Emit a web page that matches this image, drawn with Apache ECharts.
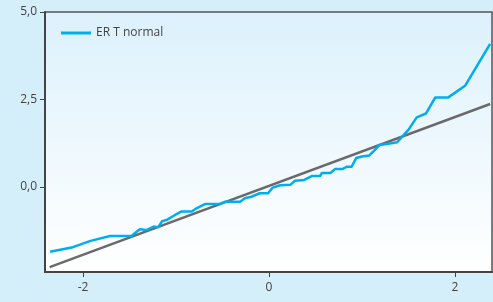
<!DOCTYPE html>
<html><head><meta charset="utf-8">
<script src="https://cdn.jsdelivr.net/npm/echarts@6/dist/echarts.min.js"></script>
<style>html,body{margin:0;padding:0;background:#d4eefa;}#c{width:493px;height:302px;}</style>
</head><body><div id="c"></div>
<script>
const seriesName = 'ER T normal';
const xTicks = [-2, 0, 2];
const yTicks = [0, 2.5, 5];
const empirical = [[-2.355,-1.85],[-2.11,-1.72],[-1.92,-1.54],[-1.71,-1.40],[-1.48,-1.40],[-1.39,-1.21],[-1.32,-1.23],[-1.24,-1.13],[-1.19,-1.15],[-1.15,-0.98],[-1.10,-0.94],[-1.01,-0.80],[-0.94,-0.70],[-0.83,-0.70],[-0.78,-0.61],[-0.69,-0.49],[-0.53,-0.49],[-0.47,-0.42],[-0.31,-0.42],[-0.26,-0.32],[-0.19,-0.28],[-0.10,-0.18],[-0.01,-0.18],[0.04,-0.02],[0.12,0.05],[0.23,0.06],[0.28,0.18],[0.38,0.2],[0.46,0.31],[0.55,0.31],[0.57,0.40],[0.66,0.40],[0.71,0.51],[0.79,0.51],[0.84,0.58],[0.89,0.58],[0.94,0.83],[1.00,0.87],[1.08,0.90],[1.14,1.06],[1.19,1.20],[1.30,1.24],[1.38,1.28],[1.50,1.63],[1.59,1.99],[1.69,2.10],[1.79,2.56],[1.93,2.56],[2.11,2.89],[2.38,4.09]];
const refLine = [[-2.36,-2.29],[2.38,2.37]];

const chart = echarts.init(document.getElementById('c'), null, {renderer:'canvas'});
const fmt = v => v.toFixed(1).replace('.', ',');
chart.setOption({
  animation:false,
  backgroundColor:'#d4eefa',
  textStyle:{fontFamily:'Open Sans'},
  grid:{left:45,right:1,top:12,bottom:30,show:true,borderColor:'#555',borderWidth:1.5,
    backgroundColor:{type:'linear',x:0,y:0,x2:0,y2:1,colorStops:[{offset:0,color:'#dcf1fc'},{offset:1,color:'#ffffff'}]}},
  legend:{show:true,left:56,top:22,itemWidth:30,itemHeight:3,itemGap:5,icon:'rect',
    textStyle:{fontSize:12,color:'#444',fontFamily:'Open Sans'},data:[seriesName]},
  xAxis:{type:'value',min:-2.41,max:2.40,
    axisLine:{show:true,onZero:false,lineStyle:{color:'#444',width:2}},
    axisTick:{show:true,length:5,lineStyle:{color:'#444'},customValues:xTicks},
    axisLabel:{color:'#444',fontSize:12,margin:10,customValues:xTicks,formatter:v=>String(v)},
    splitLine:{show:false}},
  yAxis:{type:'value',min:-2.43,max:5,
    axisLine:{show:true,onZero:false,lineStyle:{color:'#444',width:2}},
    axisTick:{show:true,length:5,lineStyle:{color:'#444'},customValues:yTicks},
    axisLabel:{color:'#444',fontSize:12,margin:8,customValues:yTicks,formatter:fmt},
    splitLine:{show:false}},
  series:[
    {name:'ref',type:'line',data:refLine,symbol:'none',lineStyle:{color:'#6a6a6a',width:2.5},z:2},
    {name:seriesName,type:'line',data:empirical,symbol:'none',color:'#00aeef',lineStyle:{color:'#00aeef',width:2.5},z:3}
  ]
});
</script></body></html>
